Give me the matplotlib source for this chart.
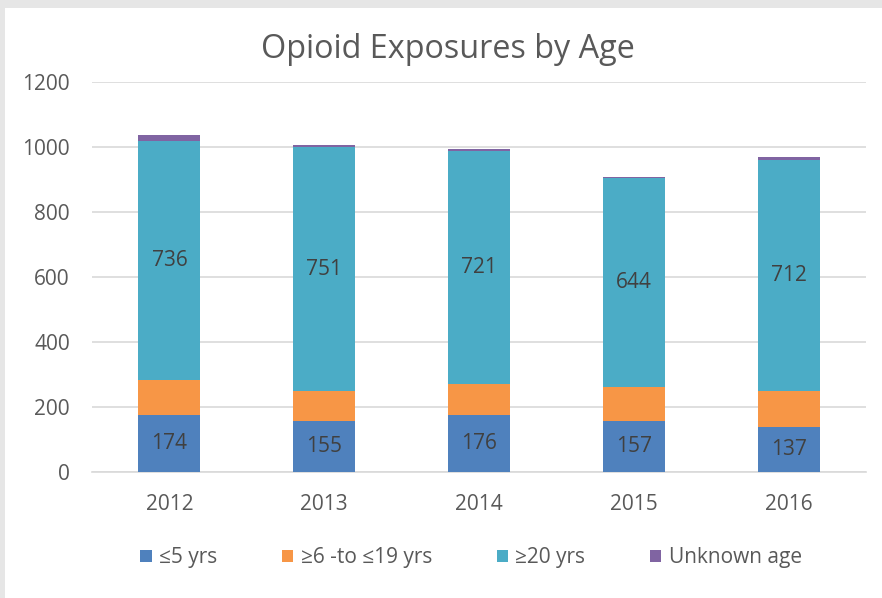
import matplotlib
matplotlib.use("Agg")
import matplotlib.pyplot as plt
from matplotlib.patches import Rectangle
import numpy as np

years = ["2012", "2013", "2014", "2015", "2016"]
age_0_5 = [174, 155, 176, 157, 137]
age_6_19 = [108, 94, 93, 104, 112]
age_20p = [736, 751, 721, 644, 712]
unknown = [21, 7, 5, 3, 10]
series_names = ["≤5 yrs", "≥6 -to ≤19 yrs", "≥20 yrs", "Unknown age"]
colors = ["#4F81BD", "#F79646", "#4BACC6", "#8064A2"]

plt.rcParams['font.family'] = ['Open Sans', 'DejaVu Sans']
fig = plt.figure(figsize=(8.82, 5.98), dpi=100)
fig.patch.set_facecolor("white")
# slide shadow border
fig.patches.append(Rectangle((0, 1 - 8/598), 1, 8/598, transform=fig.transFigure,
                             facecolor="#e6e6e6", edgecolor="none", zorder=0))
fig.patches.append(Rectangle((0, 0), 5/882, 1, transform=fig.transFigure,
                             facecolor="#e6e6e6", edgecolor="none", zorder=0))

ax = fig.add_axes([92/882, 1 - 471.6/598, (866 - 92)/882, (471.6 - 82.4)/598])
x = np.arange(len(years))
data = [age_0_5, age_6_19, age_20p, unknown]
bottom = np.zeros(len(years))
bars = []
for vals, c, name in zip(data, colors, series_names):
    b = ax.bar(x, vals, 0.4, bottom=bottom, color=c, label=name, zorder=3)
    bars.append(b)
    bottom += np.array(vals)

for vals, b in ((age_0_5, bars[0]), (age_20p, bars[2])):
    for rect, v in zip(b, vals):
        ax.text(rect.get_x() + rect.get_width()/2, rect.get_y() + rect.get_height()/2,
                str(v), ha="center", va="center", fontsize=15, color="#404040", zorder=4)

ax.set_xlim(-0.5, len(years) - 0.5)
ax.set_ylim(0, 1200)
ax.set_yticks(range(0, 1201, 200))
ax.set_xticks(x)
ax.set_xticklabels(years)
ax.yaxis.grid(True, color="#d9d9d9", linewidth=1.2, zorder=0)
ax.set_axisbelow(True)
for s in ["top", "right", "left"]:
    ax.spines[s].set_visible(False)
ax.spines["bottom"].set_color("#d9d9d9")
ax.spines["bottom"].set_linewidth(1.2)
ax.tick_params(axis="both", length=0, labelsize=15, labelcolor="#595959")
ax.tick_params(axis="y", pad=16)
ax.tick_params(axis="x", pad=16)

fig.text(448/882, 1 - 50/598, "Opioid Exposures by Age", ha="center", va="center",
         fontsize=23.3, color="#595959")

fig.legend(handles=bars, labels=series_names, loc="center", bbox_to_anchor=(471/882, 1 - 558/598),
           ncol=4, frameon=False, fontsize=15, handlelength=0.55, handleheight=0.55,
           handletextpad=0.35, columnspacing=3.1, labelcolor="#595959")

fig.savefig("out.png", dpi=100)
